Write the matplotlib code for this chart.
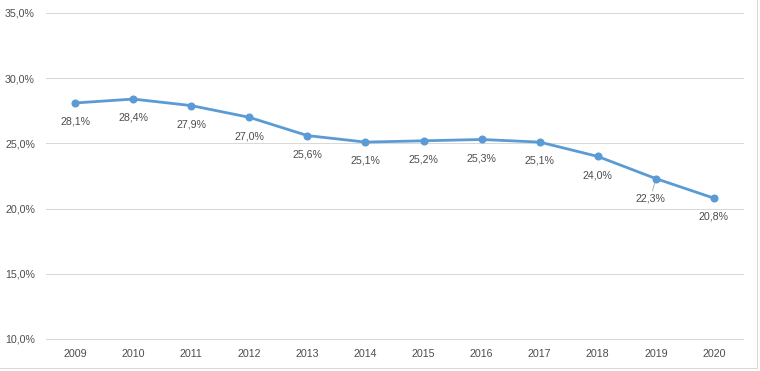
import matplotlib
matplotlib.use("Agg")
import matplotlib.pyplot as plt
from matplotlib.patches import Rectangle

years = ["2009", "2010", "2011", "2012", "2013", "2014", "2015", "2016", "2017", "2018", "2019", "2020"]
values = [28.1, 28.4, 27.9, 27.0, 25.6, 25.1, 25.2, 25.3, 25.1, 24.0, 22.3, 20.8]
yticks = [10, 15, 20, 25, 30, 35]

plt.rcParams['font.family'] = ['Liberation Sans', 'DejaVu Sans']
text_color = "#4D4D4D"
line_color = "#5B9BD5"

fig = plt.figure(figsize=(7.6, 3.71), dpi=100)
ax = fig.add_axes([46/760, 1-339/371, (743-46)/760, (339-13)/371])

x = list(range(len(years)))
ax.plot(x, values, color=line_color, linewidth=2.0, marker='o', markersize=4.8,
        solid_capstyle='round', zorder=3)

for i, v in enumerate(values):
    label = f"{v:.1f}%".replace(".", ",")
    if years[i] == "2019":
        ax.annotate(label, xy=(i, v), xytext=(-4, -14.5), textcoords='offset points',
                    ha='center', va='center', fontsize=7.7, color=text_color,
                    arrowprops=dict(arrowstyle='-', color='#A6A6A6', lw=0.6,
                                    shrinkA=0, shrinkB=1.5),
                    zorder=2)
    else:
        ax.annotate(label, xy=(i, v), xytext=(0, -13.5), textcoords='offset points',
                    ha='center', va='center', fontsize=7.7, color=text_color)

ax.set_xlim(-0.5, len(years) - 0.5)
ax.set_ylim(10, 35)
ax.set_yticks(yticks)
ax.set_yticklabels([f"{t:.1f}%".replace(".", ",") for t in yticks])
ax.set_xticks(x)
ax.set_xticklabels(years)
ax.tick_params(axis='both', length=0, labelsize=7.7, colors=text_color)
ax.tick_params(axis='y', pad=8)
ax.tick_params(axis='x', pad=7)
for t in yticks:
    ax.axhline(t, color='#D9D9D9', linewidth=0.75, clip_on=False, zorder=1)
for s in ax.spines.values():
    s.set_visible(False)

fig.patches.append(Rectangle((-1/760, 3/371), 758/760, 370/371, transform=fig.transFigure,
                             fill=False, edgecolor='#D9D9D9', linewidth=0.75))

fig.savefig("out.png", dpi=100)
